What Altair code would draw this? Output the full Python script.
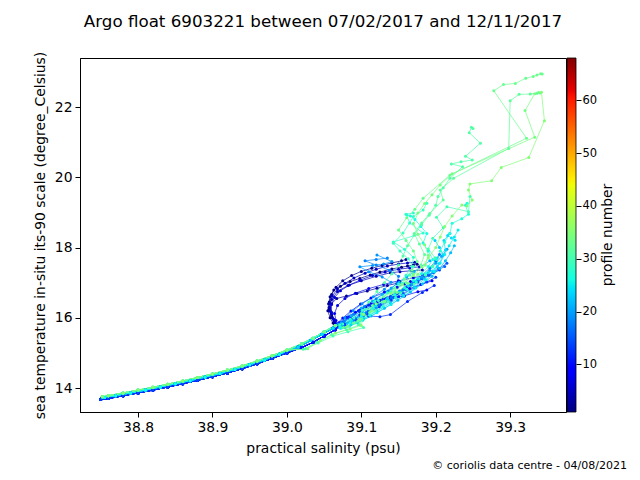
import altair as alt
import pandas as pd

TITLE = "Argo float 6903221 between 07/02/2017 and 12/11/2017"
X_TITLE = "practical salinity (psu)"
Y_TITLE = "sea temperature in-situ its-90 scale (degree_Celsius)"
CBAR_TITLE = "profile number"
CREDIT = "\u00a9 coriolis data centre - 04/08/2021"
X_TICKS = [38.8, 38.9, 39.0, 39.1, 39.2, 39.3]
Y_TICKS = [14, 16, 18, 20, 22]
CBAR_TICKS = [10, 20, 30, 40, 50, 60]
CBAR_RANGE = [1, 68]

# shared lower sections (salinity, temperature)
mid_green = [(39.065, 15.78), (39.05, 15.60), (39.035, 15.42), (39.02, 15.26)]
mid_cyan = [(39.062, 15.70), (39.047, 15.52), (39.032, 15.35), (39.015, 15.17)]
mid_blue = [(39.065, 15.66), (39.05, 15.48), (39.035, 15.30), (39.02, 15.15)]
deep_green = [(39.00, 15.08), (38.98, 14.92), (38.96, 14.77), (38.94, 14.63), (38.92, 14.51),
              (38.90, 14.40), (38.88, 14.30), (38.86, 14.20), (38.84, 14.11), (38.82, 14.02),
              (38.80, 13.94), (38.78, 13.86), (38.76, 13.78), (38.752, 13.75)]
deep_cyan = [(38.99, 14.96), (38.97, 14.80), (38.95, 14.66), (38.93, 14.53), (38.91, 14.41),
             (38.89, 14.31), (38.87, 14.21), (38.85, 14.12), (38.83, 14.03), (38.81, 13.94),
             (38.79, 13.86), (38.77, 13.78), (38.755, 13.73)]
deep_blue = [(39.00, 15.00), (38.98, 14.84), (38.96, 14.69), (38.94, 14.55), (38.92, 14.43),
             (38.90, 14.32), (38.88, 14.22), (38.86, 14.12), (38.84, 14.03), (38.82, 13.94),
             (38.80, 13.86), (38.78, 13.78), (38.76, 13.70), (38.75, 13.68)]

# upper sections of each profile (surface first)
p01 = [(39.175, 17.52), (39.170, 17.50), (39.162, 17.47), (39.154, 17.44), (39.141, 17.39), (39.125, 17.30),
       (39.112, 17.22), (39.098, 17.12), (39.085, 17.03), (39.072, 16.90), (39.063, 16.79), (39.058, 16.60),
       (39.056, 16.40), (39.055, 16.20), (39.058, 16.00), (39.062, 15.85)]
p02 = [(39.160, 17.66), (39.154, 17.62), (39.141, 17.56), (39.128, 17.49), (39.114, 17.41), (39.100, 17.32),
       (39.087, 17.20), (39.075, 17.05), (39.066, 16.87), (39.060, 16.66), (39.057, 16.45), (39.057, 16.25),
       (39.060, 16.05), (39.064, 15.88)]
p03 = [(39.152, 17.02), (39.148, 16.98), (39.135, 16.92), (39.121, 16.84), (39.108, 16.76), (39.094, 16.69),
       (39.080, 16.62), (39.067, 16.55), (39.060, 16.40), (39.057, 16.20), (39.061, 16.00), (39.065, 15.84)]
p04 = [(39.182, 17.36), (39.168, 17.34), (39.152, 17.31), (39.139, 17.28), (39.120, 17.18), (39.100, 17.05),
       (39.082, 16.92), (39.068, 16.75), (39.060, 16.52), (39.057, 16.30), (39.060, 16.10), (39.064, 15.90)]
p05 = [(39.172, 17.58), (39.162, 17.56), (39.150, 17.53), (39.135, 17.47), (39.120, 17.38), (39.105, 17.27),
       (39.090, 17.13), (39.078, 16.98), (39.068, 16.82), (39.061, 16.62), (39.058, 16.40), (39.059, 16.18),
       (39.063, 15.95)]
p06 = [(39.178, 17.45), (39.165, 17.42), (39.150, 17.38), (39.132, 17.30), (39.115, 17.20), (39.098, 17.07),
       (39.084, 16.93), (39.072, 16.77), (39.064, 16.58), (39.060, 16.38), (39.060, 16.15), (39.063, 15.95)]
p07 = [(39.185, 17.20), (39.170, 17.14), (39.150, 17.05), (39.130, 16.95), (39.110, 16.83), (39.092, 16.70),
       (39.078, 16.55), (39.068, 16.35), (39.064, 16.12), (39.066, 15.92)]
p08 = [(39.188, 16.79), (39.176, 16.74), (39.157, 16.62), (39.139, 16.56), (39.121, 16.45), (39.106, 16.31),
       (39.092, 16.16), (39.080, 16.01), (39.070, 15.86)]
p09 = [(39.195, 17.05), (39.180, 16.95), (39.165, 16.83), (39.148, 16.70), (39.130, 16.55), (39.113, 16.40),
       (39.098, 16.22), (39.085, 16.03), (39.074, 15.86)]
p10 = [(39.166, 17.03), (39.158, 16.96), (39.148, 16.87), (39.131, 16.73), (39.113, 16.56), (39.099, 16.39),
       (39.086, 16.19), (39.075, 15.99), (39.067, 15.83)]
p11 = [(39.158, 16.62), (39.150, 16.60), (39.139, 16.60), (39.125, 16.50), (39.110, 16.36), (39.096, 16.20),
       (39.083, 16.02), (39.072, 15.85)]
p12 = [(39.198, 16.92), (39.182, 16.72), (39.162, 16.46), (39.139, 16.09), (39.125, 16.03), (39.110, 16.05),
       (39.098, 16.08), (39.089, 15.94), (39.077, 15.83), (39.068, 15.73)]
p13 = [(39.200, 17.15), (39.188, 17.02), (39.172, 16.86), (39.156, 16.69), (39.140, 16.50), (39.124, 16.31),
       (39.108, 16.12), (39.093, 15.93), (39.078, 15.78)]
p14 = [(39.205, 17.36), (39.191, 17.21), (39.176, 17.05), (39.161, 16.88), (39.146, 16.70), (39.129, 16.52),
       (39.113, 16.35), (39.098, 16.17), (39.084, 15.98), (39.073, 15.82)]
p15 = [(39.215, 17.55), (39.204, 17.40), (39.190, 17.22), (39.176, 17.02), (39.160, 16.80), (39.143, 16.58),
       (39.126, 16.38), (39.109, 16.18), (39.092, 15.97), (39.076, 15.80)]
p16 = [(39.212, 17.46), (39.197, 17.29), (39.181, 17.11), (39.166, 16.93), (39.151, 16.76), (39.134, 16.56),
       (39.118, 16.37), (39.101, 16.16), (39.086, 15.95), (39.073, 15.78)]
p17 = [(39.205, 17.80), (39.200, 17.62), (39.192, 17.42), (39.182, 17.22), (39.170, 17.02), (39.156, 16.80),
       (39.140, 16.58), (39.123, 16.36), (39.106, 16.14), (39.090, 15.94), (39.075, 15.78)]
p18 = [(39.135, 17.70), (39.120, 17.66), (39.105, 17.62), (39.120, 17.50), (39.138, 17.35), (39.150, 17.18),
       (39.148, 16.98), (39.136, 16.76), (39.120, 16.54), (39.104, 16.32), (39.090, 16.10), (39.077, 15.90)]
p19 = [(39.121, 17.79), (39.141, 17.60), (39.130, 17.53), (39.115, 17.49), (39.098, 17.45), (39.110, 17.31),
       (39.128, 17.16), (39.140, 17.01), (39.131, 16.81), (39.116, 16.60), (39.101, 16.40), (39.089, 16.20),
       (39.078, 16.00), (39.069, 15.82)]
p20 = [(39.215, 17.95), (39.208, 17.75), (39.200, 17.55), (39.192, 17.35), (39.181, 17.15), (39.168, 16.95),
       (39.153, 16.73), (39.137, 16.50), (39.120, 16.28), (39.103, 16.06), (39.086, 15.88), (39.072, 15.74)]
p21 = [(39.192, 17.62), (39.181, 17.46), (39.171, 17.31), (39.161, 17.16), (39.151, 17.01), (39.140, 16.85),
       (39.128, 16.67), (39.115, 16.48), (39.100, 16.28), (39.086, 16.06), (39.073, 15.86)]
p22 = [(39.225, 18.05), (39.220, 17.85), (39.213, 17.62), (39.205, 17.40), (39.195, 17.18), (39.182, 16.96),
       (39.166, 16.73), (39.149, 16.50), (39.131, 16.27), (39.113, 16.05), (39.095, 15.86), (39.078, 15.72)]
p23 = [(39.199, 18.20), (39.205, 18.00), (39.210, 17.78), (39.205, 17.55), (39.196, 17.32), (39.185, 17.10),
       (39.171, 16.88), (39.156, 16.65), (39.139, 16.42), (39.121, 16.19), (39.103, 15.98), (39.086, 15.80),
       (39.072, 15.70)]
p24 = [(39.226, 18.21), (39.221, 18.27), (39.216, 18.34), (39.219, 18.40), (39.211, 18.20), (39.213, 17.93),
       (39.202, 17.70), (39.202, 17.46), (39.190, 17.28), (39.176, 17.10), (39.163, 16.92), (39.150, 16.74),
       (39.135, 16.55), (39.119, 16.35), (39.103, 16.13), (39.087, 15.92), (39.072, 15.76)]
p25 = [(39.230, 18.50), (39.225, 18.30), (39.218, 18.05), (39.212, 17.80), (39.206, 17.56), (39.198, 17.32),
       (39.187, 17.08), (39.173, 16.85), (39.157, 16.62), (39.140, 16.38), (39.121, 16.14), (39.102, 15.93),
       (39.084, 15.76)]
p26 = [(39.161, 18.93), (39.166, 18.90), (39.172, 18.80), (39.180, 18.60), (39.188, 18.40), (39.183, 18.13),
       (39.190, 17.90), (39.196, 17.66), (39.190, 17.46), (39.181, 17.26), (39.170, 17.06), (39.158, 16.86),
       (39.145, 16.66), (39.130, 16.46), (39.115, 16.26), (39.100, 16.05), (39.085, 15.86), (39.071, 15.72)]
p27 = [(39.242, 19.26), (39.240, 19.20), (39.244, 18.95), (39.235, 18.82), (39.222, 18.69), (39.219, 18.40),
       (39.212, 18.15), (39.206, 17.90), (39.201, 17.66), (39.195, 17.45), (39.186, 17.25), (39.174, 17.02),
       (39.161, 16.81), (39.146, 16.57), (39.129, 16.32), (39.111, 16.07), (39.092, 15.86), (39.074, 15.71)]
p28 = [(39.170, 18.98), (39.160, 18.95), (39.165, 18.70), (39.183, 18.41), (39.143, 18.16), (39.158, 17.95),
       (39.170, 17.72), (39.168, 17.46), (39.160, 17.21), (39.150, 16.96), (39.135, 16.71), (39.118, 16.46),
       (39.101, 16.21), (39.085, 15.96), (39.071, 15.80)]
p29 = [(39.188, 19.26), (39.183, 19.07), (39.170, 18.88), (39.156, 18.41), (39.143, 18.12), (39.152, 17.90),
       (39.163, 17.68), (39.170, 17.46), (39.165, 17.22), (39.155, 16.98), (39.140, 16.74), (39.123, 16.49),
       (39.106, 16.24), (39.090, 15.99), (39.075, 15.82)]
p30 = [(39.246, 19.45), (39.244, 19.02), (39.215, 19.16), (39.201, 18.86), (39.210, 18.56), (39.196, 18.26),
       (39.190, 17.96), (39.199, 17.71), (39.196, 17.46), (39.186, 17.21), (39.171, 16.96), (39.153, 16.71),
       (39.136, 16.46), (39.119, 16.21), (39.101, 15.96), (39.096, 15.80), (39.103, 15.72), (39.082, 15.60),
       (39.062, 15.48), (39.042, 15.28), (39.025, 15.12)]
p31 = [(39.250, 21.39), (39.248, 21.42), (39.245, 21.27), (39.260, 20.97), (39.240, 20.60), (39.249, 20.49),
       (39.234, 20.44), (39.221, 20.38), (39.236, 20.30), (39.219, 19.97), (39.210, 19.70), (39.203, 19.45),
       (39.200, 19.20), (39.191, 18.92), (39.181, 18.65), (39.171, 18.35), (39.162, 18.05), (39.156, 17.76),
       (39.150, 17.50), (39.141, 17.25), (39.131, 17.00), (39.121, 16.75), (39.110, 16.45), (39.100, 16.12),
       (39.098, 15.80), (39.080, 15.66), (39.060, 15.52), (39.040, 15.30), (39.022, 15.10)]
p32 = [(39.340, 22.40), (39.336, 22.39), (39.327, 22.37), (39.312, 22.36), (39.300, 22.18), (39.298, 20.82),
       (39.224, 19.97), (39.206, 19.64), (39.210, 19.35), (39.192, 18.97), (39.181, 18.70), (39.171, 18.40),
       (39.178, 18.10), (39.185, 17.80), (39.180, 17.50), (39.170, 17.25), (39.160, 17.00), (39.145, 16.75),
       (39.128, 16.45), (39.111, 16.15), (39.095, 15.90), (39.080, 15.74)]
p33 = [(39.343, 22.94), (39.341, 22.95), (39.336, 22.91), (39.331, 22.87), (39.321, 22.82), (39.307, 22.67),
       (39.291, 22.64), (39.278, 22.46), (39.322, 21.11), (39.219, 20.06), (39.183, 19.40), (39.172, 19.09),
       (39.161, 18.85), (39.150, 18.50), (39.160, 18.20), (39.170, 17.90), (39.175, 17.60), (39.168, 17.35),
       (39.158, 17.10), (39.145, 16.85), (39.130, 16.60), (39.115, 16.35), (39.103, 16.10), (39.090, 15.85),
       (39.076, 15.72)]
p34 = [(39.338, 22.41), (39.333, 22.38), (39.320, 21.90), (39.333, 21.14), (39.222, 20.10), (39.206, 19.78),
       (39.195, 19.50), (39.185, 19.25), (39.176, 18.98), (39.170, 18.68), (39.176, 18.38), (39.185, 18.08),
       (39.190, 17.78), (39.186, 17.50), (39.176, 17.24), (39.163, 16.98), (39.148, 16.72), (39.131, 16.46),
       (39.114, 16.20), (39.098, 15.95), (39.082, 15.76)]
p35 = [(39.342, 22.42), (39.346, 21.61), (39.325, 20.56), (39.288, 20.28), (39.275, 19.90), (39.246, 19.81),
       (39.244, 19.64), (39.249, 19.35), (39.242, 19.18), (39.235, 19.21), (39.222, 18.90), (39.212, 18.60),
       (39.206, 18.30), (39.200, 18.00), (39.190, 17.70), (39.181, 17.45), (39.170, 17.20), (39.155, 16.95),
       (39.140, 16.70), (39.120, 16.40), (39.103, 16.10), (39.100, 15.78), (39.085, 15.68), (39.065, 15.56),
       (39.045, 15.35), (39.028, 15.12)]

profiles = {
    1: p01 + mid_blue + deep_blue,
    2: p02 + mid_blue + deep_blue,
    3: p03 + mid_blue + deep_blue,
    4: p04 + mid_blue + deep_blue,
    5: p05 + mid_blue + deep_blue,
    6: p06 + mid_blue + deep_blue,
    7: p07 + mid_blue + deep_blue,
    8: p08 + mid_blue + deep_blue,
    9: p09 + mid_blue + deep_blue,
    10: p10 + mid_blue + deep_blue,
    11: p11 + mid_blue + deep_blue,
    12: p12 + mid_cyan + deep_blue,
    13: p13 + mid_cyan + deep_blue,
    14: p14 + mid_cyan + deep_blue,
    15: p15 + mid_cyan + deep_cyan,
    16: p16 + mid_cyan + deep_cyan,
    17: p17 + mid_cyan + deep_cyan,
    18: p18 + mid_cyan + deep_cyan,
    19: p19 + mid_cyan + deep_cyan,
    20: p20 + mid_cyan + deep_cyan,
    21: p21 + mid_cyan + deep_cyan,
    22: p22 + mid_cyan + deep_cyan,
    23: p23 + mid_green + deep_cyan,
    24: p24 + mid_cyan + deep_cyan,
    25: p25 + mid_green + deep_green,
    26: p26 + mid_green + deep_cyan,
    27: p27 + mid_green + deep_green,
    28: p28 + mid_green + deep_green,
    29: p29 + mid_green + deep_green,
    30: p30 + deep_green,
    31: p31 + deep_green,
    32: p32 + mid_green + deep_green,
    33: p33 + mid_green + deep_green,
    34: p34 + mid_green + deep_green,
    35: p35 + deep_green,
}

rows = []
for n, pts in profiles.items():
    for i, (s, t) in enumerate(pts):
        rows.append({"profile": n, "seq": i, "S": s, "T": t})
df = pd.DataFrame(rows)

# matplotlib "jet" colormap breakpoints (fraction of colour range) and colours
jet_pos = [0.0, 0.11, 0.125, 0.34, 0.35, 0.375, 0.64, 0.65, 0.66, 0.89, 0.91, 1.0]
jet_col = ["#000080", "#0000ff", "#0000ff", "#00dbff", "#00e5f7", "#14ffe2",
           "#eeff08", "#f7f500", "#ffec00", "#ff1300", "#e80000", "#800000"]
jet_domain = [CBAR_RANGE[0] + p * (CBAR_RANGE[1] - CBAR_RANGE[0]) for p in jet_pos]

FONT = "DejaVu Sans"

color_scale = alt.Scale(domain=jet_domain, range=jet_col, interpolate="rgb")

x_enc = alt.X("S:Q", scale=alt.Scale(domain=[38.722, 39.375], nice=False, zero=False),
              axis=alt.Axis(values=X_TICKS, format=".1f", title=X_TITLE, titleX=243, titleY=36,
                            titleBaseline="middle", titleAlign="center"))
y_enc = alt.Y("T:Q", scale=alt.Scale(domain=[13.317, 23.395], nice=False, zero=False),
              axis=alt.Axis(values=Y_TICKS, format="d", title=Y_TITLE, titleX=-40, titleY=177,
                            titleAngle=270, titleBaseline="middle", titleAlign="center"))

base = alt.Chart(df)
lines = base.mark_line(strokeWidth=0.7, clip=True).encode(
    x=x_enc, y=y_enc,
    color=alt.Color("profile:Q", scale=color_scale, legend=None),
    detail="profile:N", order="seq:Q",
)
points = base.mark_circle(size=9, opacity=1, clip=True).encode(
    x=x_enc, y=y_enc,
    color=alt.Color("profile:Q", scale=color_scale, legend=None),
)
profiles_layer = alt.layer(lines, points)

# colour bar: a gradient-filled rect on its own (independent) y scale
jet_gradient = alt.Gradient(
    gradient="linear", x1=0, x2=0, y1=1, y2=0,
    stops=[alt.GradientStop(offset=p, color=c) for p, c in zip(jet_pos, jet_col)],
)
cbar = alt.Chart(pd.DataFrame({"lo": [CBAR_RANGE[0]], "hi": [CBAR_RANGE[1]]})).mark_rect(
    fill=jet_gradient, stroke="black", strokeWidth=0.8
).encode(
    x=alt.value(487), x2=alt.value(496),
    y=alt.Y("lo:Q", scale=alt.Scale(domain=CBAR_RANGE, nice=False, zero=False),
            axis=alt.Axis(orient="right", values=CBAR_TICKS, format="d", offset=10, domain=False,
                          title=None, tickSize=5, labelPadding=1, labelFontSize=11.5)),
    y2="hi:Q",
)

credit = alt.Chart(pd.DataFrame({"note": [CREDIT]})).mark_text(
    align="right", baseline="alphabetic", fontSize=11, font=FONT, color="black"
).encode(x=alt.value(547), y=alt.value(411), text="note:N")
cbar_title = alt.Chart(pd.DataFrame({"note": [CBAR_TITLE]})).mark_text(
    align="center", baseline="middle", fontSize=13.9, font=FONT, color="black", angle=270
).encode(x=alt.value(528), y=alt.value(177), text="note:N")

chart = alt.layer(profiles_layer, cbar, credit, cbar_title).resolve_scale(y="independent").properties(
    width=486, height=354,
    title=alt.TitleParams(text=TITLE, fontSize=16.7, font=FONT, fontWeight="normal",
                          anchor="middle", offset=8, baseline="alphabetic", color="black"),
    autosize=alt.AutoSizeParams(type="none"),
    padding={"left": 80, "top": 58, "right": 74, "bottom": 68},
).configure(background="white").configure_view(stroke="black", strokeWidth=1).configure_axis(
    grid=False, domainColor="black", tickColor="black", tickSize=5, labelFontSize=13.9,
    labelFont=FONT, labelColor="black", titleFont=FONT, titleFontSize=13.9,
    titleFontWeight="normal", titleColor="black", labelPadding=3,
)

chart.save("out.html", embed_options={"renderer": "svg", "actions": False})
